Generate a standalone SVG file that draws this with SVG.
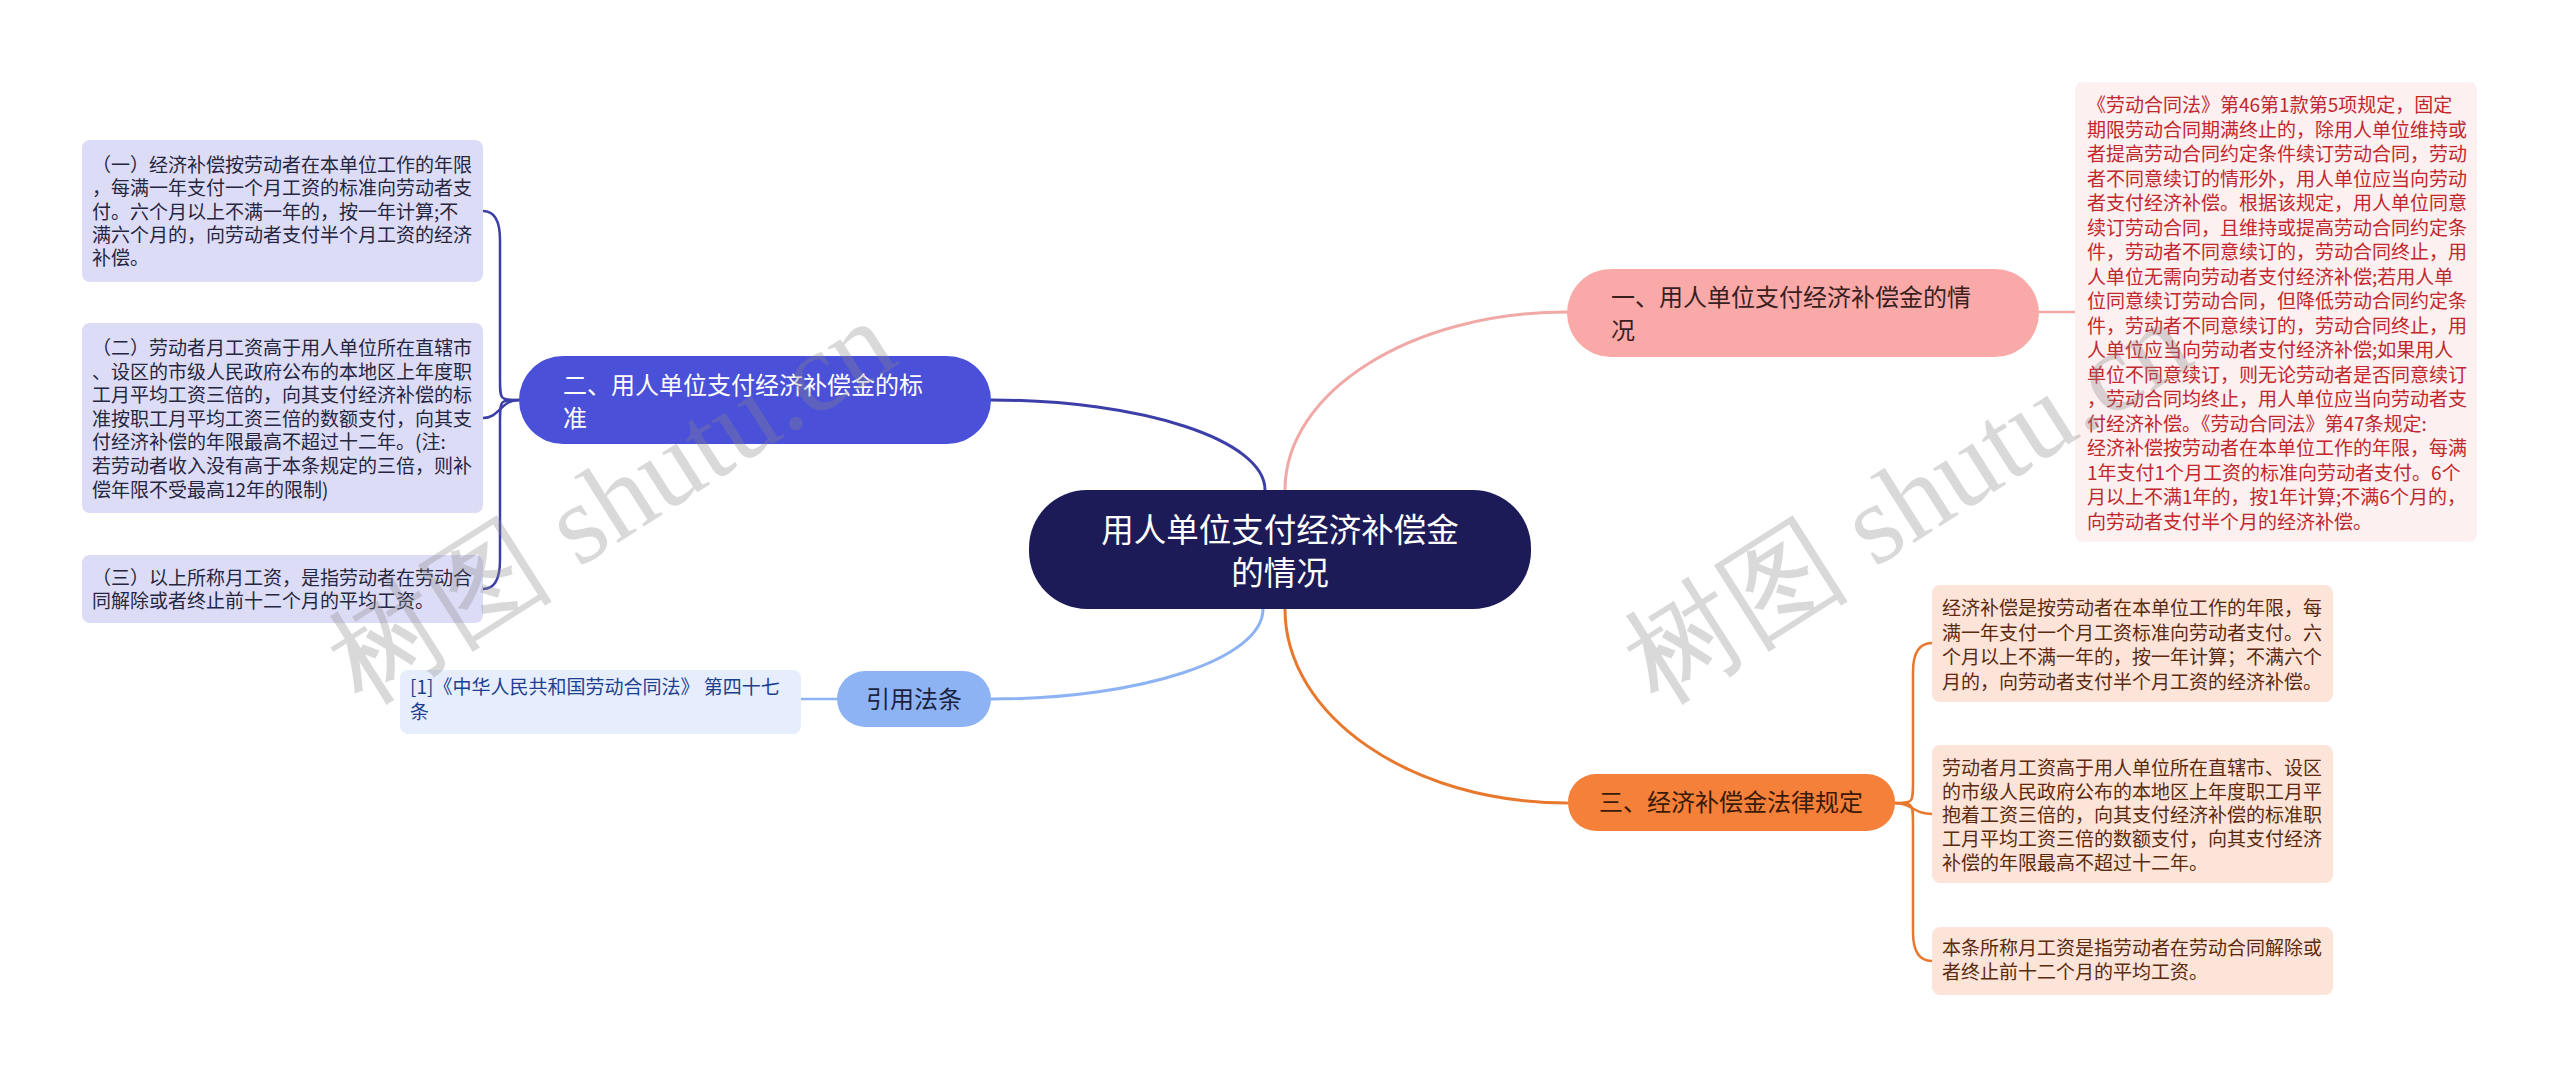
<svg xmlns="http://www.w3.org/2000/svg" width="2560" height="1077" viewBox="0 0 2560 1077">
<style>
text{font-family:"Noto Sans CJK SC","Noto Sans",sans-serif}
.leaf{font-size:19px}
.lv{fill:#dcdcf6}
.lvt{fill:#262640}
.rp{fill:#fdf0f0}
.rpt{fill:#c1272d}
.ro{fill:#fde4d8}
.rot{fill:#5b2a0f}
.br{font-size:24px}
.wm{font-family:"Liberation Serif","DejaVu Serif",serif;font-size:114px;fill:#8a8a8a;fill-opacity:0.32}
.c{fill:none;stroke-linecap:round}
</style>
<rect width="2560" height="1077" fill="#ffffff"/>
<g id="connectors">
<path class="c" d="M1265,490 C1265,440 1142,400 991,400" stroke="#3c3fa8" stroke-width="3"/>
<path class="c" d="M1285,490 C1285,392 1411,312 1567,312" stroke="#f0a9a6" stroke-width="3"/>
<path class="c" d="M1263,609 C1263,659 1141,699 991,699" stroke="#8db3f4" stroke-width="3"/>
<path class="c" d="M1285,609 C1285,716 1411,803 1567,803" stroke="#e8782e" stroke-width="3"/>
<path class="c" d="M2038,312 H2075" stroke="#f0a9a6" stroke-width="2.5"/>
<path class="c" d="M837,699 H801" stroke="#8db3f4" stroke-width="2.5"/>
<path class="c" d="M519,400 C500,400 500,400 500,380 V240 Q500,211 483,211" stroke="#3c3fa8" stroke-width="2.5"/>
<path class="c" d="M519,400 C500,400 500,418 483,418" stroke="#3c3fa8" stroke-width="2.5"/>
<path class="c" d="M519,400 C500,400 500,400 500,420 V560 Q500,589 483,589" stroke="#3c3fa8" stroke-width="2.5"/>
<path class="c" d="M1894,803 C1913,803 1913,803 1913,783 V672 Q1913,643 1932,643" stroke="#e8782e" stroke-width="2.5"/>
<path class="c" d="M1894,803 C1913,803 1913,814 1932,814" stroke="#e8782e" stroke-width="2.5"/>
<path class="c" d="M1894,803 C1913,803 1913,803 1913,823 V932 Q1913,961 1932,961" stroke="#e8782e" stroke-width="2.5"/>
</g>
<g id="center">
<rect x="1029" y="490" width="502" height="119" rx="58" fill="#1d1b57"/>
<text x="1280" y="542" font-size="32.5" fill="#ffffff" text-anchor="middle">用人单位支付经济补偿金</text>
<text x="1280" y="585" font-size="32.5" fill="#ffffff" text-anchor="middle">的情况</text>
</g>
<g id="branch1">
<rect x="1567" y="269" width="472" height="88" rx="44" fill="#f9aaa8"/>
<text class="br" x="1611" y="306" fill="#3a1f1f">一、用人单位支付经济补偿金的情</text>
<text class="br" x="1611" y="339" fill="#3a1f1f">况</text>
</g>
<g id="branch2">
<rect x="519" y="356" width="472" height="88" rx="44" fill="#4a50d8"/>
<text class="br" x="563" y="394" fill="#ffffff">二、用人单位支付经济补偿金的标</text>
<text class="br" x="563" y="427" fill="#ffffff">准</text>
</g>
<g id="branch3">
<rect x="837" y="671" width="154" height="56" rx="28" fill="#8db3f4"/>
<text class="br" x="914" y="708" fill="#1a2440" text-anchor="middle">引用法条</text>
</g>
<g id="branch4">
<rect x="1568" y="774" width="327" height="57" rx="28" fill="#f4803a"/>
<text class="br" x="1731" y="811" fill="#3a1a08" text-anchor="middle">三、经济补偿金法律规定</text>
</g>
<g id="leaf-l1">
<rect class="lv" x="82" y="140" width="401" height="142" rx="8"/>
<text class="leaf lvt"><tspan x="92" y="172">（一）经济补偿按劳动者在本单位工作的年限</tspan><tspan x="92" y="195.3">，每满一年支付一个月工资的标准向劳动者支</tspan><tspan x="92" y="218.6">付。六个月以上不满一年的，按一年计算;不</tspan><tspan x="92" y="241.9">满六个月的，向劳动者支付半个月工资的经济</tspan><tspan x="92" y="265.2">补偿。</tspan></text>
</g>
<g id="leaf-l2">
<rect class="lv" x="82" y="323" width="401" height="190" rx="8"/>
<text class="leaf lvt"><tspan x="92" y="355">（二）劳动者月工资高于用人单位所在直辖市</tspan><tspan x="92" y="378.6">、设区的市级人民政府公布的本地区上年度职</tspan><tspan x="92" y="402.2">工月平均工资三倍的，向其支付经济补偿的标</tspan><tspan x="92" y="425.8">准按职工月平均工资三倍的数额支付，向其支</tspan><tspan x="92" y="449.4">付经济补偿的年限最高不超过十二年。(注:</tspan><tspan x="92" y="473">若劳动者收入没有高于本条规定的三倍，则补</tspan><tspan x="92" y="496.6">偿年限不受最高12年的限制)</tspan></text>
</g>
<g id="leaf-l3">
<rect class="lv" x="82" y="555" width="401" height="68" rx="8"/>
<text class="leaf lvt"><tspan x="92" y="585">（三）以上所称月工资，是指劳动者在劳动合</tspan><tspan x="92" y="608.3">同解除或者终止前十二个月的平均工资。</tspan></text>
</g>
<g id="leaf-cite">
<rect x="400" y="670" width="401" height="64" rx="8" fill="#e6eefd"/>
<text class="leaf" fill="#1e3f8f"><tspan x="410" y="694">[1]《中华人民共和国劳动合同法》 第四十七</tspan><tspan x="410" y="718.5">条</tspan></text>
</g>
<g id="leaf-r1">
<rect class="rp" x="2075" y="82" width="402" height="460" rx="8"/>
<text class="leaf rpt"><tspan x="2087" y="112">《劳动合同法》第46第1款第5项规定，固定</tspan><tspan x="2087" y="136.5">期限劳动合同期满终止的，除用人单位维持或</tspan><tspan x="2087" y="161">者提高劳动合同约定条件续订劳动合同，劳动</tspan><tspan x="2087" y="185.5">者不同意续订的情形外，用人单位应当向劳动</tspan><tspan x="2087" y="210">者支付经济补偿。根据该规定，用人单位同意</tspan><tspan x="2087" y="234.5">续订劳动合同，且维持或提高劳动合同约定条</tspan><tspan x="2087" y="259">件，劳动者不同意续订的，劳动合同终止，用</tspan><tspan x="2087" y="283.5">人单位无需向劳动者支付经济补偿;若用人单</tspan><tspan x="2087" y="308">位同意续订劳动合同，但降低劳动合同约定条</tspan><tspan x="2087" y="332.5">件，劳动者不同意续订的，劳动合同终止，用</tspan><tspan x="2087" y="357">人单位应当向劳动者支付经济补偿;如果用人</tspan><tspan x="2087" y="381.5">单位不同意续订，则无论劳动者是否同意续订</tspan><tspan x="2087" y="406">，劳动合同均终止，用人单位应当向劳动者支</tspan><tspan x="2087" y="430.5">付经济补偿。《劳动合同法》第47条规定:</tspan><tspan x="2087" y="455">经济补偿按劳动者在本单位工作的年限，每满</tspan><tspan x="2087" y="479.5">1年支付1个月工资的标准向劳动者支付。6个</tspan><tspan x="2087" y="504">月以上不满1年的，按1年计算;不满6个月的，</tspan><tspan x="2087" y="528.5">向劳动者支付半个月的经济补偿。</tspan></text>
</g>
<g id="leaf-r2">
<rect class="ro" x="1932" y="585" width="401" height="117" rx="8"/>
<text class="leaf rot"><tspan x="1942" y="615">经济补偿是按劳动者在本单位工作的年限，每</tspan><tspan x="1942" y="639.6">满一年支付一个月工资标准向劳动者支付。六</tspan><tspan x="1942" y="664.2">个月以上不满一年的，按一年计算；不满六个</tspan><tspan x="1942" y="688.8">月的，向劳动者支付半个月工资的经济补偿。</tspan></text>
</g>
<g id="leaf-r3">
<rect class="ro" x="1932" y="745" width="401" height="138" rx="8"/>
<text class="leaf rot"><tspan x="1942" y="775">劳动者月工资高于用人单位所在直辖市、设区</tspan><tspan x="1942" y="798.7">的市级人民政府公布的本地区上年度职工月平</tspan><tspan x="1942" y="822.4">抱着工资三倍的，向其支付经济补偿的标准职</tspan><tspan x="1942" y="846.1">工月平均工资三倍的数额支付，向其支付经济</tspan><tspan x="1942" y="869.8">补偿的年限最高不超过十二年。</tspan></text>
</g>
<g id="leaf-r4">
<rect class="ro" x="1932" y="927" width="401" height="68" rx="8"/>
<text class="leaf rot"><tspan x="1942" y="955">本条所称月工资是指劳动者在劳动合同解除或</tspan><tspan x="1942" y="979">者终止前十二个月的平均工资。</tspan></text>
</g>
<g id="watermark">
<text class="wm" transform="translate(362,706) rotate(-32.5)">树图 shutu.cn</text>
<text class="wm" transform="translate(1658,706) rotate(-32.5)">树图 shutu.cn</text>
</g>
</svg>
